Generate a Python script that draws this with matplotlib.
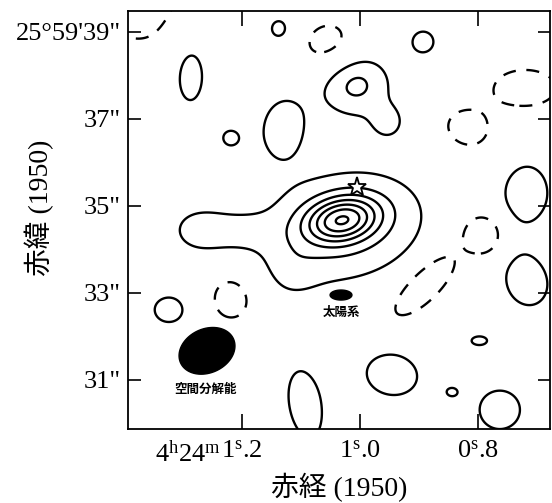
import numpy as np
import matplotlib
matplotlib.use('Agg')
import matplotlib.pyplot as plt

plt.rcParams['font.family'] = ['Liberation Serif', 'Noto Sans CJK JP']
plt.rcParams['mathtext.fontset'] = 'custom'
plt.rcParams['mathtext.rm'] = 'Liberation Serif'
plt.rcParams['mathtext.it'] = 'Liberation Serif:italic'

# map components: RA (s, 4h24m1s.xx -> 1.xx), Dec (arcsec of 25d59m),
# amplitude in contour units, widths in arcsec, position angle on the plot
comp_ra  = [1.0305, 1.0288, 1.2746, 1.2119, 1.1186,
            1.288, 1.137, 1.0085, 0.9525, 1.220, 1.1305, 0.893, 0.717, 0.717,
            0.798, 0.9458, 0.844, 0.763, 1.093, 1.3237,
            1.373, 1.054, 0.8186, 0.7932, 0.8898, 1.217, 0.720]
comp_dec = [34.678, 34.517, 34.448, 34.40, 33.48,
            38.08, 39.07, 37.80, 36.93, 36.56, 36.82, 38.77, 35.30, 33.25,
            31.90, 31.115, 30.72, 30.31, 30.43, 32.61,
            39.74, 38.70, 36.75, 34.33, 33.18, 32.89, 37.71]
comp_amp = [5.0, 2.2, 1.3, 0.9, 0.6,
            1.5, 1.5, 2.3, 1.2, 1.15, 1.5, 1.5, 1.5, 1.5,
            1.1, 1.5, 1.06, 1.5, 1.5, 1.5,
            -1.5, -1.5, -1.5, -3.0, -3.0, -1.6, -1.5]
comp_sx  = [0.573, 1.42, 0.46, 0.57, 0.45,
            0.36, 0.20, 0.58, 0.30, 0.25, 0.46, 0.26, 0.51, 0.50,
            0.37, 0.64, 0.15, 0.51, 0.40, 0.36,
            1.0, 0.56, 0.51, 0.30, 0.66, 0.46, 0.77]
comp_sy  = [0.344, 0.94, 0.37, 0.34, 0.45,
            0.77, 0.22, 0.52, 0.30, 0.25, 0.64, 0.26, 0.66, 0.60,
            0.21, 0.51, 0.12, 0.49, 0.85, 0.31,
            1.0, 0.51, 0.41, 0.31, 0.24, 0.51, 0.46]
comp_pa  = [12, 12, 0, 0, 0,
            0, 0, 0, 0, 0, -10, 0, 0, 20,
            0, -10, 0, 0, 10, 0,
            0, 30, -20, 0, 45, 0, 0]

pos_levels = [1, 2, 3, 4, 5, 6, 7]
neg_levels = [-1]

star_ra, star_dec = 1.005, 35.437
beam = (1.2593, 31.667, 0.665, 0.505, 25)      # ra, dec, half-major, half-minor ("), angle
solar = (1.0322, 32.95, 0.25, 0.115, 0)

yticks = [31, 33, 35, 37, 39]
ytick_labels = ['31"', '33"', '35"', '37"', '25°59\'39"']
xticks = [1.2, 1.0, 0.8]
xtick_labels = [r'1$^{\rm s}$.2', r'1$^{\rm s}$.0', r'0$^{\rm s}$.8']

AS_PER_S = 13.5  # arcsec per second of RA at this Dec

ra = np.linspace(1.42, 0.65, 600)
dec = np.linspace(29.6, 39.8, 600)
RA, DEC = np.meshgrid(ra, dec)
U = (1.0 - RA) * AS_PER_S
V = DEC

Z = np.zeros_like(U)
for r0, d0, a, sx, sy, pa in zip(comp_ra, comp_dec, comp_amp, comp_sx, comp_sy, comp_pa):
    t = np.deg2rad(pa)
    du = U - (1.0 - r0) * AS_PER_S
    dv = V - d0
    p = du * np.cos(t) + dv * np.sin(t)
    q = -du * np.sin(t) + dv * np.cos(t)
    Z += a * np.exp(-0.5 * (p**2 / sx**2 + q**2 / sy**2))

fig = plt.figure(figsize=(5.52, 5.03), dpi=100)
ax = fig.add_axes([128/552, 1 - 429/503, 422/552, 418/503])

ax.contour(RA, DEC, Z, levels=pos_levels, colors='black', linewidths=1.7)
ax.contour(RA, DEC, Z, levels=neg_levels, colors='black', linewidths=1.7,
           linestyles=[(0, (5.5, 4.5))])

def ellipse_xy(e):
    r0, d0, a, b, ang = e
    th = np.linspace(0, 2*np.pi, 100)
    t = np.deg2rad(ang)
    pu = a*np.cos(th)*np.cos(t) - b*np.sin(th)*np.sin(t)
    pv = a*np.cos(th)*np.sin(t) + b*np.sin(th)*np.cos(t)
    return r0 - pu / AS_PER_S, d0 + pv

bx, by = ellipse_xy(beam)
ax.fill(bx, by, color='black')
sx_, sy_ = ellipse_xy(solar)
ax.fill(sx_, sy_, color='black')

ax.plot([star_ra], [star_dec], marker='*', ms=14, mfc='white', mec='black', mew=1.3)

ax.text(1.261, 30.77, '空間分解能', family='Noto Sans CJK JP', fontsize=9,
        fontweight='bold', ha='center', va='center')
ax.text(1.0322, 32.54, '太陽系', family='Noto Sans CJK JP', fontsize=9,
        fontweight='bold', ha='center', va='center')

ax.set_xlim(1.3932, 0.678)
ax.set_ylim(29.87, 39.48)
ax.set_xticks(xticks)
ax.set_xticklabels(xtick_labels)
ax.set_yticks(yticks)
ax.set_yticklabels(ytick_labels)
ax.tick_params(axis='x', which='both', direction='in', top=True, length=11,
               width=1.2, labelsize=19, pad=8)
ax.tick_params(axis='y', which='both', direction='in', right=True, length=9,
               width=1.2, labelsize=19, pad=5)
for sp in ax.spines.values():
    sp.set_linewidth(1.3)

ax.annotate(r'4$^{\rm h}$24$^{\rm m}$', xy=(1.2, 0), xycoords=('data', 'axes fraction'),
            xytext=(-15, -8), textcoords='offset points', ha='right', va='top',
            fontsize=19)

ax.set_xlabel('赤経 (1950)', fontsize=20)
ax.xaxis.set_label_coords(0.5, -0.105)
ax.set_ylabel('赤緯 (1950)', fontsize=20)
ax.yaxis.set_label_coords(-0.175, 0.529)

fig.savefig('out.png', dpi=100)
